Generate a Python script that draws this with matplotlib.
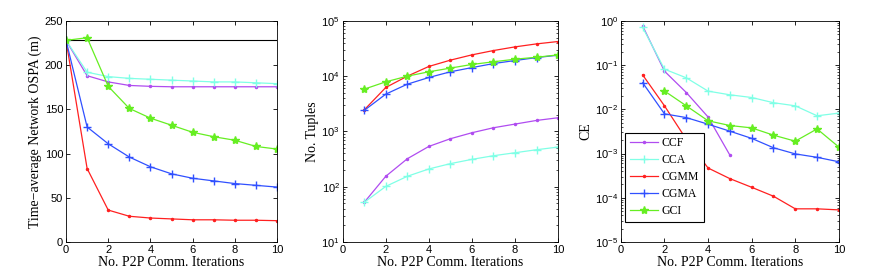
import numpy as np
import matplotlib
matplotlib.use('Agg')
import matplotlib.pyplot as plt
from matplotlib.ticker import LogLocator, NullFormatter

# series data
names = ['CCF', 'CCA', 'CGMM', 'CGMA', 'GCI']
colours = ['#b04cf0', '#80ffe6', '#ff2020', '#3050ff', '#66ee22']
markers = ['.', '+', '.', '+', '*']
msizes = [3, 6, 3, 6, 6]

iters0 = np.arange(0, 11)
iters1 = np.arange(1, 11)

# panel 1: time-average network OSPA (m)
ospa_ref = 228
ospa = {
    'CCF': [228, 188, 181, 177, 176, 175.5, 175.5, 175.5, 175.5, 175.5, 175.5],
    'CCA': [228, 192, 187, 185, 184, 183, 182, 181, 181, 180, 179],
    'CGMM': [228, 83, 36, 29, 27, 26, 25, 25, 24.5, 24.5, 24],
    'CGMA': [228, 130, 111, 96, 85, 77, 72, 69, 66, 64, 62],
    'GCI': [228, 231, 176, 151, 140, 132, 124, 119, 115, 108, 105],
}

# panel 2: number of tuples
tuples = {
    'CCF': [52, 154, 320, 535, 737, 946, 1165, 1357, 1580, 1767],
    'CCA': [52, 101, 154, 209, 261, 312, 363, 411, 466, 521],
    'CGMM': [2450, 6240, 10000, 15000, 19500, 24300, 29100, 33900, 38400, 42400],
    'CGMA': [2400, 4730, 7160, 9460, 12000, 14300, 16900, 19200, 21700, 24000],
    'GCI': [5820, 7900, 10000, 12000, 14000, 16300, 18200, 20300, 22000, 24300],
}

# panel 3: CE
ce_x = {
    'CCF': [1, 2, 3, 4, 5],
    'CCA': list(range(1, 11)),
    'CGMM': list(range(1, 11)),
    'CGMA': list(range(1, 11)),
    'GCI': list(range(2, 11)),
}
ce = {
    'CCF': [0.77, 0.073, 0.024, 0.0067, 0.00092],
    'CCA': [0.71, 0.081, 0.0516, 0.0258, 0.0213, 0.0185, 0.0141, 0.012, 0.00714, 0.0082],
    'CGMM': [0.060, 0.012, 0.0021, 0.00047, 0.00027, 0.000172, 0.000108, 5.6e-5, 5.6e-5, 5.3e-5],
    'CGMA': [0.040, 0.0079, 0.0065, 0.0046, 0.0032, 0.0022, 0.00135, 0.00098, 0.00082, 0.00065],
    'GCI': [0.026, 0.012, 0.0055, 0.0043, 0.0038, 0.0026, 0.0019, 0.0036, 0.0014],
}

plt.rcParams['font.family'] = 'Liberation Sans'
plt.rcParams['font.size'] = 8
serif = 'Liberation Serif'

fig = plt.figure(figsize=(8.72, 2.79), dpi=100)
ax1 = fig.add_axes([0.0757, 0.133, 0.242, 0.792])
ax2 = fig.add_axes([0.393, 0.133, 0.247, 0.792])
ax3 = fig.add_axes([0.712, 0.133, 0.250, 0.792])

# panel 1
ax1.plot([0, 10], [ospa_ref, ospa_ref], color='black', lw=0.8)
for n, c, m, s in zip(names, colours, markers, msizes):
    ax1.plot(iters0, ospa[n], color=c, marker=m, ms=s, lw=0.9)
ax1.set_xlim(0, 10)
ax1.set_ylim(0, 250)
ax1.set_yticks(range(0, 251, 50))
ax1.set_ylabel('Time\u2212average Network OSPA (m)', family=serif, fontsize=10, labelpad=2)

# panel 2
for n, c, m, s in zip(names, colours, markers, msizes):
    ax2.plot(iters1, tuples[n], color=c, marker=m, ms=s, lw=0.9)
ax2.set_yscale('log')
ax2.set_xlim(0, 10)
ax2.set_ylim(10, 1e5)
ax2.set_ylabel('No. Tuples', family=serif, fontsize=10, labelpad=2)

# panel 3
for n, c, m, s in zip(names, colours, markers, msizes):
    ax3.plot(ce_x[n], ce[n], color=c, marker=m, ms=s, lw=0.9, label=n)
ax3.set_yscale('log')
ax3.set_xlim(0, 10)
ax3.set_ylim(1e-5, 1)
ax3.set_ylabel('CE', family=serif, fontsize=10, labelpad=2)
leg = ax3.legend(loc='lower left', bbox_to_anchor=(0.01, 0.08), prop={'family': serif, 'size': 8.5},
                 fancybox=False, framealpha=1, edgecolor='black', borderpad=0.4,
                 labelspacing=0.42, handlelength=2.4, handletextpad=0.25, borderaxespad=0.2)
leg.get_frame().set_linewidth(0.8)

for ax in (ax1, ax2, ax3):
    ax.set_xticks(range(0, 11, 2))
    ax.set_xlabel('No. P2P Comm. Iterations', family=serif, fontsize=10, labelpad=1)
    ax.tick_params(direction='in', top=True, right=True, length=3, width=0.6, pad=2)
    ax.tick_params(which='minor', direction='in', left=True, right=True, length=1.5, width=0.5)
    for sp in ax.spines.values():
        sp.set_linewidth(0.6)
for ax in (ax2, ax3):
    ax.yaxis.set_minor_locator(LogLocator(base=10, subs=np.arange(2, 10), numticks=20))
    ax.yaxis.set_minor_formatter(NullFormatter())

fig.savefig('out.png', dpi=100)
